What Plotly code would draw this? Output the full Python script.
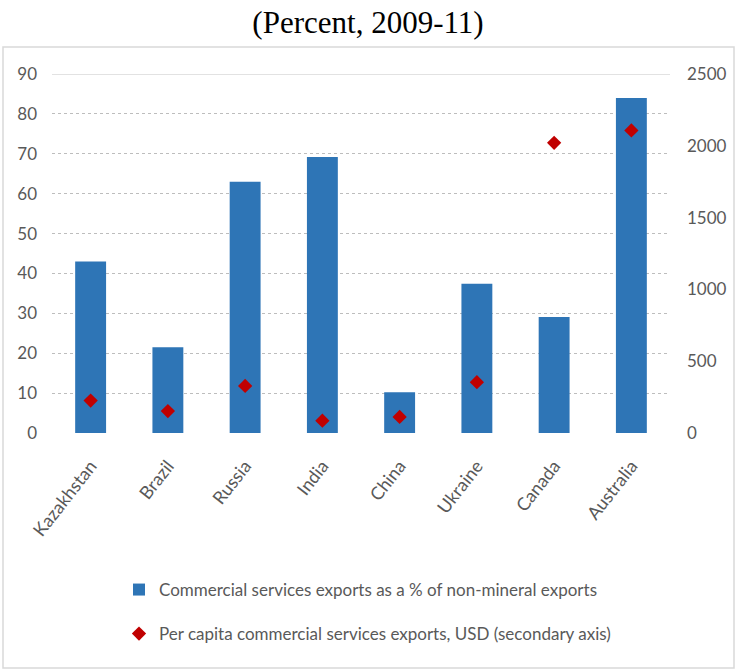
import plotly.graph_objects as go

countries = ["Kazakhstan", "Brazil", "Russia", "India", "China", "Ukraine", "Canada", "Australia"]
services_share_pct = [43.0, 21.5, 63.0, 69.2, 10.2, 37.4, 29.1, 84.0]
per_capita_usd = [226, 153, 328, 86, 112, 354, 2021, 2107]

left_ticks = list(range(0, 100, 10))
right_ticks = list(range(0, 3000, 500))

W, H = 736, 669
M_L, M_R, M_T, M_B = 52, 66, 74, 236
PW, PH = W - M_L - M_R, H - M_T - M_B

TEXT_GRAY = "#595959"
BAR_BLUE = "#2E75B6"
DIAMOND_RED = "#C00000"
FONT = "Lato, 'Open Sans', sans-serif"


def px_x(p):
    return (p - M_L) / PW


def px_y(p):
    return (H - M_B - p) / PH


fig = go.Figure()

fig.add_trace(go.Bar(
    x=countries,
    y=services_share_pct,
    name="Commercial services exports as a % of non-mineral exports",
    marker=dict(color=BAR_BLUE, line=dict(width=0)),
    yaxis="y",
    legend="legend",
))

fig.add_trace(go.Scatter(
    x=countries,
    y=per_capita_usd,
    mode="markers",
    name="Per capita commercial services exports, USD (secondary axis)",
    marker=dict(symbol="diamond", size=11, color=DIAMOND_RED),
    yaxis="y2",
    legend="legend2",
))

legend_common = dict(
    xanchor="left", yanchor="middle",
    bgcolor="rgba(0,0,0,0)", borderwidth=0,
    font=dict(family=FONT, size=17, color=TEXT_GRAY),
    itemwidth=30,
)

fig.update_layout(
    width=W, height=H,
    margin=dict(l=M_L, r=M_R, t=M_T, b=M_B, pad=0, autoexpand=False),
    paper_bgcolor="white",
    plot_bgcolor="white",
    bargap=0.6,
    showlegend=True,
    title=dict(
        text="(Percent, 2009-11)",
        font=dict(family="'Liberation Serif', 'Times New Roman', serif", size=31, color="black"),
        x=0.5, xanchor="center",
        y=1 - 22 / H, yanchor="middle",
        xref="container", yref="container",
    ),
    xaxis=dict(
        type="category",
        tickangle=-52,
        tickfont=dict(family=FONT, size=18, color=TEXT_GRAY),
        showgrid=False,
        showline=False,
        zeroline=False,
        ticks="",
        ticklabelstandoff=18,
        automargin=False,
    ),
    yaxis=dict(
        range=[0, 90],
        tickvals=left_ticks,
        tickfont=dict(family=FONT, size=17, color=TEXT_GRAY),
        showgrid=True,
        gridcolor="#BDBDBD",
        gridwidth=1,
        griddash="dot",
        zeroline=False,
        showline=False,
        ticks="",
        ticklabelstandoff=14,
        automargin=False,
    ),
    yaxis2=dict(
        range=[0, 2500],
        tickvals=right_ticks,
        overlaying="y",
        side="right",
        tickfont=dict(family=FONT, size=17, color=TEXT_GRAY),
        showgrid=False,
        zeroline=False,
        showline=False,
        ticks="",
        ticklabelstandoff=16,
        automargin=False,
    ),
    legend=dict(x=px_x(119), y=px_y(590), **legend_common),
    legend2=dict(x=px_x(119), y=px_y(634), **legend_common),
)

# solid top gridline at the axis maximum
fig.add_shape(
    type="line", xref="paper", yref="y",
    x0=0, x1=1, y0=left_ticks[-1], y1=left_ticks[-1],
    line=dict(color="#D9D9D9", width=1.5),
    layer="below",
)

# chart frame below the heading
fig.add_shape(
    type="rect", xref="paper", yref="paper",
    x0=px_x(3), x1=px_x(734), y0=px_y(668), y1=px_y(47),
    line=dict(color="#D9D9D9", width=1.5),
    fillcolor="rgba(0,0,0,0)",
    layer="below",
)

fig.write_html("out.html")
